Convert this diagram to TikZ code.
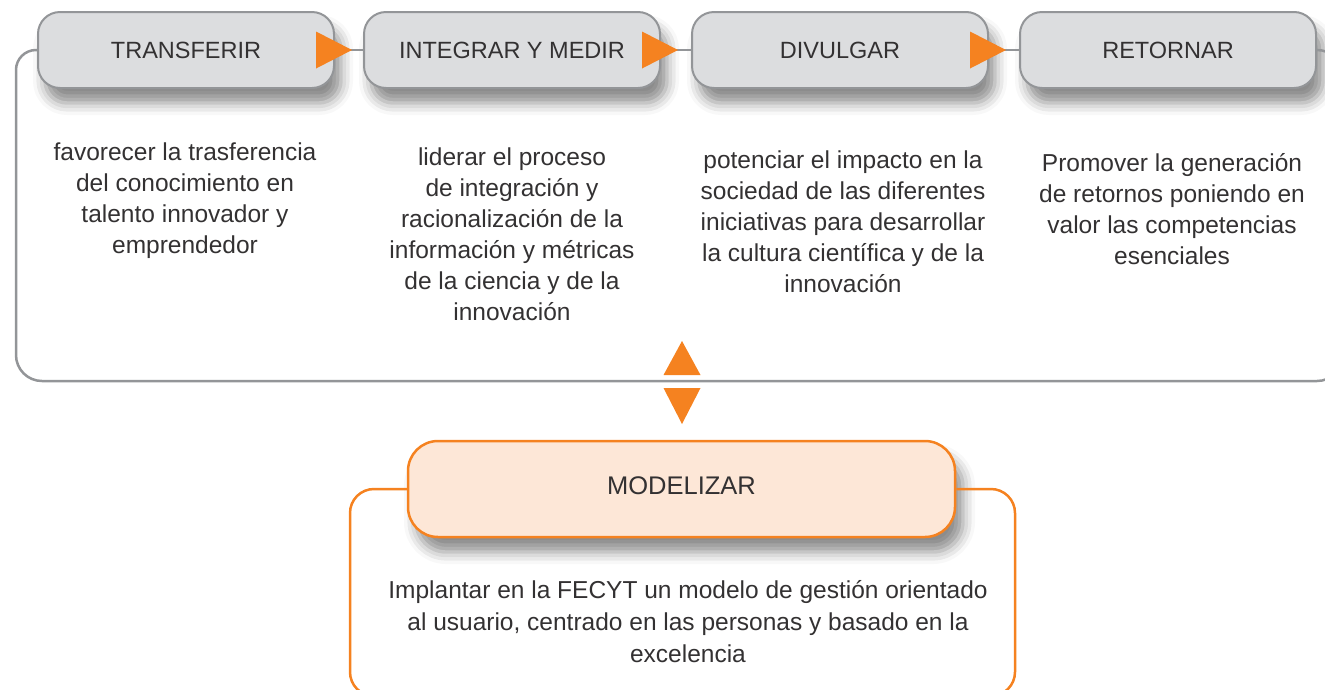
\documentclass[tikz,border=0pt]{standalone}
\usepackage{fontspec}
\setmainfont{Liberation Sans}
\usetikzlibrary{shadows.blur,calc}
\definecolor{boxgrey}{HTML}{DCDDDF}
\definecolor{linegrey}{HTML}{939598}
\definecolor{myorange}{HTML}{F58220}
\definecolor{peach}{HTML}{FDE7D7}
\definecolor{txt}{HTML}{333132}
\begin{document}
\begin{tikzpicture}[x=1pt,y=-1pt,
  stagebox/.style={rounded corners=22pt, minimum width=296pt, minimum height=76pt,
    fill=boxgrey, draw=linegrey, line width=2pt, text=txt,
    font=\fontsize{23.5}{28}\selectfont,
    blur shadow={shadow xshift=7pt, shadow yshift=-15pt, shadow blur radius=12pt, shadow opacity=45}},
  modbox/.style={rounded corners=30pt, minimum width=547pt, minimum height=96pt,
    fill=peach, draw=myorange, line width=2.5pt, text=txt,
    font=\fontsize{25.5}{30}\selectfont,
    blur shadow={shadow xshift=8pt, shadow yshift=-15pt, shadow blur radius=12pt, shadow opacity=45}},
  bodytext/.style={align=center, text=txt, font=\fontsize{24.5}{31}\selectfont},
  greyline/.style={draw=linegrey, line width=2.5pt},
  orangeline/.style={draw=myorange, line width=2.5pt},
  tri/.style={fill=myorange}]
\useasboundingbox (0,0) rectangle (1325,689);
\clip (0,0) rectangle (1325,689);
% stage boxes
\node[stagebox] (b1) at (186,50) {TRANSFERIR};
\node[stagebox] (b2) at (512,50) {INTEGRAR Y MEDIR};
\node[stagebox] (b3) at (840,50) {DIVULGAR};
\node[stagebox] (b4) at (1168,50) {RETORNAR};
% frame around the upper row
\draw[greyline] (b1.west) [rounded corners=20pt] -- (16,50) [rounded corners=26pt] -- (16,381) -- (1343,381) -- (1343,50) [sharp corners] -- (b4.east);
% connectors between stages
\draw[greyline] (b1.east) -- (b2.west);
\draw[greyline] (b2.east) -- (b3.west);
\draw[greyline] (b3.east) -- (b4.west);
\foreach \b in {b1,b2,b3}{
  \fill[tri] ($(\b.east)+(-19,-18.5)$) -- ($(\b.east)+(17,0)$) -- ($(\b.east)+(-19,18.5)$) -- cycle;
}
% descriptions
\node[bodytext] (c1) at (185,201) {favorecer la trasferencia\\del conocimiento en\\talento innovador y\\emprendedor};
\node[bodytext] (c2) at (512,234) {liderar el proceso\\de integración y\\racionalización de la\\información y métricas\\de la ciencia y de la\\innovación};
\node[bodytext] (c3) at (843,222) {potenciar el impacto en la\\sociedad de las diferentes\\iniciativas para desarrollar\\la cultura científica y de la\\innovación};
\node[bodytext] (c4) at (1172,209) {Promover la generación\\de retornos poniendo en\\valor las competencias\\esenciales};
% link triangles
\coordinate (mid) at (682,381);
\fill[tri] ($(mid)+(-18.5,-6)$) -- ($(mid)+(0,-40)$) -- ($(mid)+(18.5,-6)$) -- cycle;
\fill[tri] ($(mid)+(-18.5,7)$) -- ($(mid)+(0,43)$) -- ($(mid)+(18.5,7)$) -- cycle;
% modelizar
\node[modbox] (m) at (681.5,489) {\raisebox{6pt}{MODELIZAR}};
\draw[orangeline] (m.west) [rounded corners=24pt] -- (350,489) -- (350,696) -- (1015,696) -- (1015,489) [sharp corners] -- (m.east);
\node[bodytext, font=\fontsize{24.5}{32}\selectfont] (cm) at (688,622) {Implantar en la FECYT un modelo de gestión orientado\\al usuario, centrado en las personas y basado en la\\excelencia};
\end{tikzpicture}
\end{document}
